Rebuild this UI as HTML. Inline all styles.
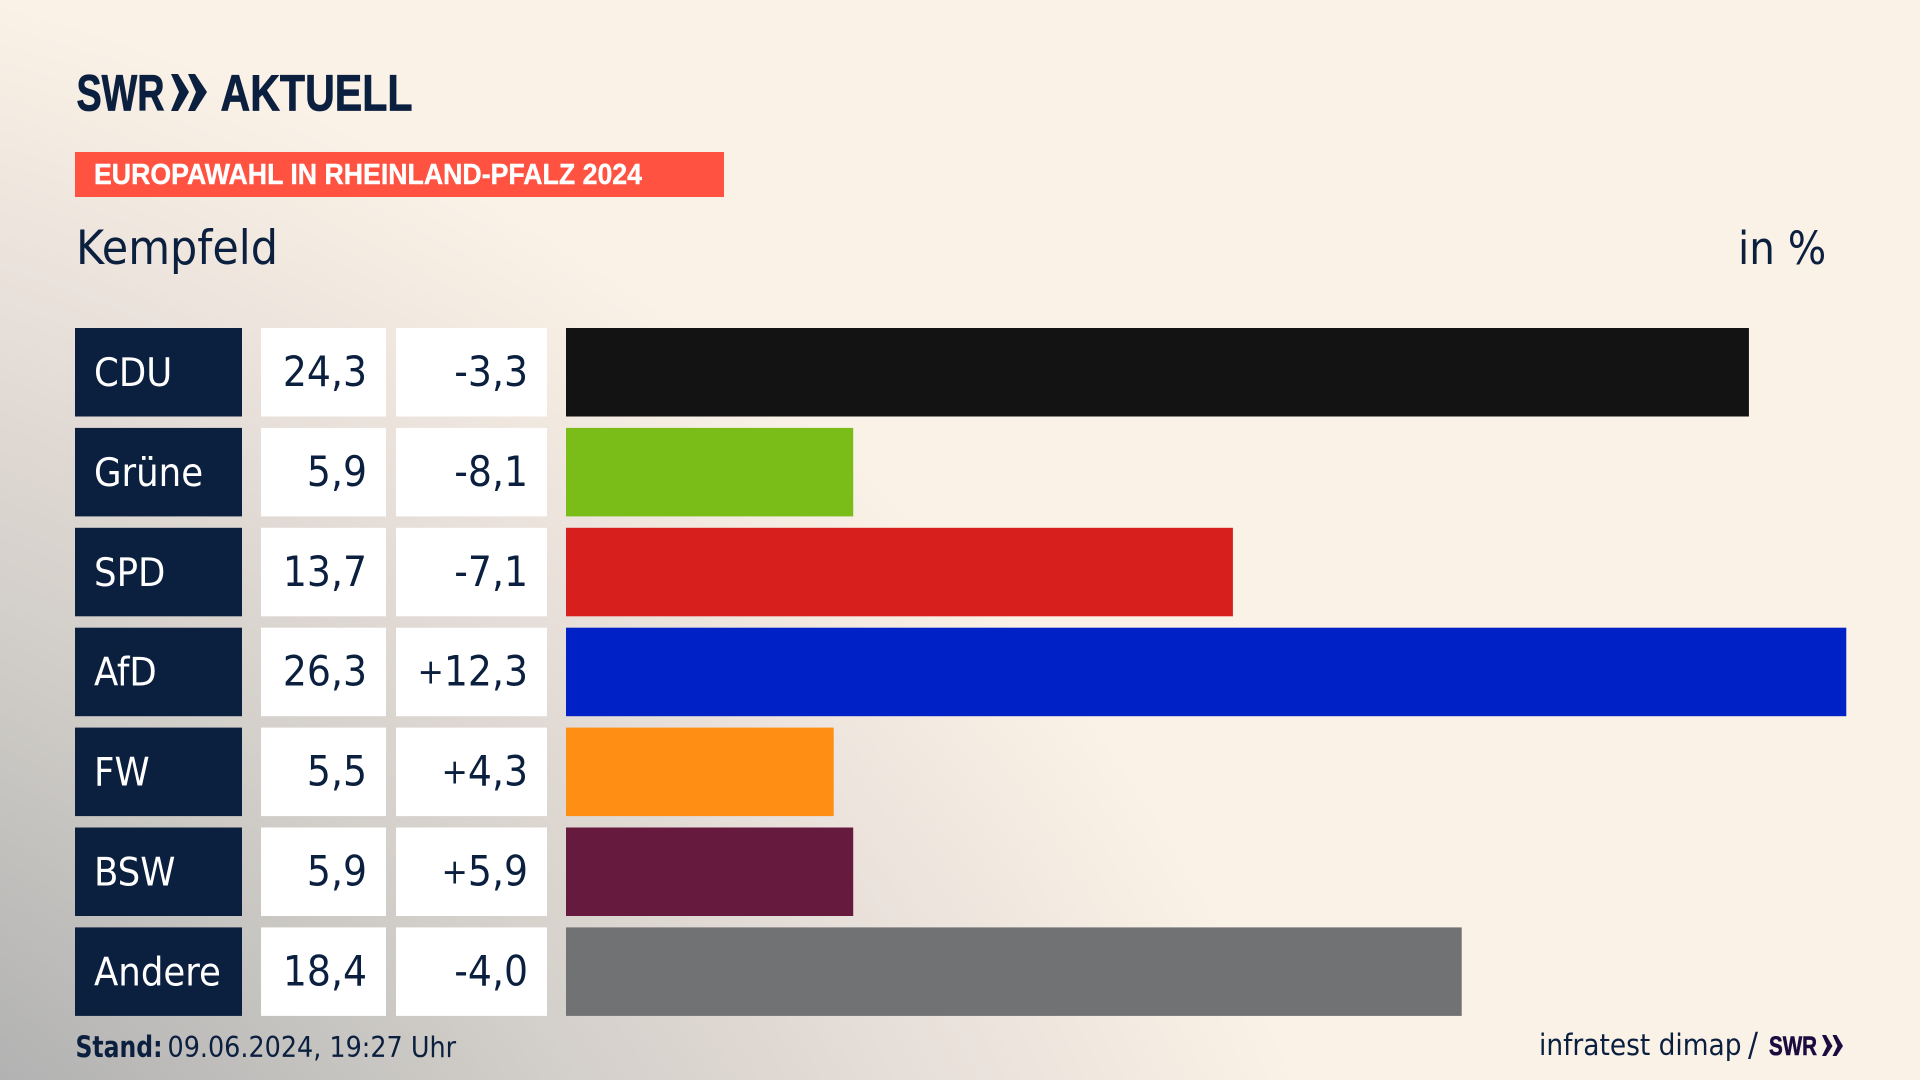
<!DOCTYPE html>
<html lang="de">
<head>
<meta charset="utf-8">
<title>Europawahl in Rheinland-Pfalz 2024 – Kempfeld</title>
<style>
html,body{margin:0;padding:0;width:1920px;height:1080px;overflow:hidden;background:#faf1e7}
#bg{position:absolute;left:0;top:0;width:1920px;height:1080px;
background:radial-gradient(ellipse 2055px 1707px at -650px 1620px, #b2b2b2 0%, #b2b2b2 44.7%, #cfccc7 64.3%, #e0d9d3 77.2%, #ebe2dc 86%, #f5ece2 95%, #faf1e7 100%)}
svg{position:absolute;left:0;top:0}
text{font-family:"DejaVu Sans Condensed","DejaVu Sans",sans-serif;font-stretch:condensed;fill:#0b1f3f}
.logo{font-family:"Liberation Sans",sans-serif;font-weight:700;font-stretch:normal;stroke-width:.8px}
.banner-text{font-family:"Liberation Sans",sans-serif;font-weight:700;font-stretch:normal;font-size:29px;fill:#fff;stroke:#fff;stroke-width:.4px}
.name{font-size:39.5px;fill:#fff}
.num{font-size:42px;text-anchor:end}
.plus{font-size:35px}
rect[data-party="CDU"]{fill:#131313}
rect[data-party="Grüne"]{fill:#7abd19}
rect[data-party="SPD"]{fill:#d7201e}
rect[data-party="AfD"]{fill:#0021c6}
rect[data-party="FW"]{fill:#ff8e14}
rect[data-party="BSW"]{fill:#661a3e}
rect[data-party="Andere"]{fill:#717274}
</style>
</head>
<body>
<div id="bg"></div>
<svg id="chart" width="1920" height="1080" viewBox="0 0 1920 1080">
  <g>
    <text class="logo" x="76.5" y="110.5" font-size="51" textLength="88" lengthAdjust="spacingAndGlyphs" style="fill:#0b1f3f;stroke:#0b1f3f">SWR</text>
    <polygon points="171,74 178,74 189,92 178,111 171,111 179,92" fill="#0b1f3f"/>
    <polygon points="188,74 195,74 207,92 195,111 188,111 196,92" fill="#0b1f3f"/>
    <text class="logo" x="220.5" y="110.5" font-size="51" textLength="192" lengthAdjust="spacingAndGlyphs" style="fill:#0b1f3f;stroke:#0b1f3f">AKTUELL</text>
  </g>
  <rect x="75" y="152" width="649" height="45" fill="#ff5240"/>
  <text class="banner-text" x="94" y="184" textLength="548" lengthAdjust="spacingAndGlyphs">EUROPAWAHL IN RHEINLAND-PFALZ 2024</text>
  <text x="76" y="264" font-size="47" textLength="202" lengthAdjust="spacingAndGlyphs">Kempfeld</text>
  <text x="1738" y="264" font-size="45">in %</text>
  <g id="rows"></g>
  <text x="75.5" y="1057" font-size="29" font-weight="700" textLength="87" lengthAdjust="spacingAndGlyphs">Stand:</text>
  <text x="167.5" y="1057" font-size="28.3">09.06.2024, 19:27 Uhr</text>
  <text x="1539" y="1055" font-size="29.4">infratest dimap</text>
  <text x="1748" y="1056" font-size="33">/</text>
  <g>
    <text class="logo" x="1769" y="1055" font-size="27" textLength="48" lengthAdjust="spacingAndGlyphs" style="fill:#1b0c3f;stroke:#1b0c3f;stroke-width:.6px">SWR</text>
    <polygon points="1822,1035 1826,1035 1832.5,1046 1826,1056 1822,1056 1827,1046" fill="#1b0c3f"/>
    <polygon points="1832.5,1035 1836.5,1035 1843,1046 1836.5,1056 1832.5,1056 1837.5,1046" fill="#1b0c3f"/>
  </g>
</svg>
<script>
const parties = ["CDU", "Grüne", "SPD", "AfD", "FW", "BSW", "Andere"];
const shares = [24.3, 5.9, 13.7, 26.3, 5.5, 5.9, 18.4];
const changes = [-3.3, -8.1, -7.1, 12.3, 4.3, 5.9, -4.0];

const NS = "http://www.w3.org/2000/svg";
const rowsGroup = document.getElementById("rows");
const xScale = function (v) { return v * 48.68; };
const yScale = function (i) { return 328 + i * 99.9; };
const ROW_H = 88.5;
const fmt = function (v) { return v.toFixed(1).replace(".", ","); };
const slug = function (s) { return s.toLowerCase().replace("ü", "ue"); };

function makeRect(x, y, w, h) {
  const r = document.createElementNS(NS, "rect");
  r.setAttribute("x", x);
  r.setAttribute("y", y);
  r.setAttribute("width", w);
  r.setAttribute("height", h);
  return r;
}
function makeText(x, y, cls, str) {
  const t = document.createElementNS(NS, "text");
  t.setAttribute("x", x);
  t.setAttribute("y", y);
  t.setAttribute("class", cls);
  t.textContent = str;
  return t;
}
function makeChangeText(x, y, v) {
  if (v <= 0) return makeText(x, y, "num", fmt(v));
  const t = makeText(x, y, "num", "");
  const plus = document.createElementNS(NS, "tspan");
  plus.setAttribute("class", "plus");
  plus.setAttribute("dy", "-2");
  plus.textContent = "+";
  t.appendChild(plus);
  const rest = document.createElementNS(NS, "tspan");
  rest.setAttribute("dy", "2");
  rest.textContent = fmt(v);
  t.appendChild(rest);
  return t;
}

parties.forEach(function (party, i) {
  const y = yScale(i);
  const base = y + 58;
  const key = slug(party);

  const nameBox = makeRect(75, y, 167, ROW_H);
  nameBox.setAttribute("fill", "#0b1f3f");
  
  
  rowsGroup.appendChild(nameBox);

  const nameText = makeText(94, base, "name", party);
  
  
  rowsGroup.appendChild(nameText);

  const shareBox = makeRect(261, y, 125, ROW_H);
  shareBox.setAttribute("fill", "#ffffff");
  
  
  rowsGroup.appendChild(shareBox);

  const shareText = makeText(367, base, "num", fmt(shares[i]));
  
  
  rowsGroup.appendChild(shareText);

  const changeBox = makeRect(396, y, 151, ROW_H);
  changeBox.setAttribute("fill", "#ffffff");
  
  
  rowsGroup.appendChild(changeBox);

  const changeText = makeChangeText(528, base, changes[i]);
  
  
  rowsGroup.appendChild(changeText);

  const bar = makeRect(566, y, xScale(shares[i]), ROW_H);
  bar.setAttribute("data-party", party);
  
  
  rowsGroup.appendChild(bar);
});
</script>
</body>
</html>
